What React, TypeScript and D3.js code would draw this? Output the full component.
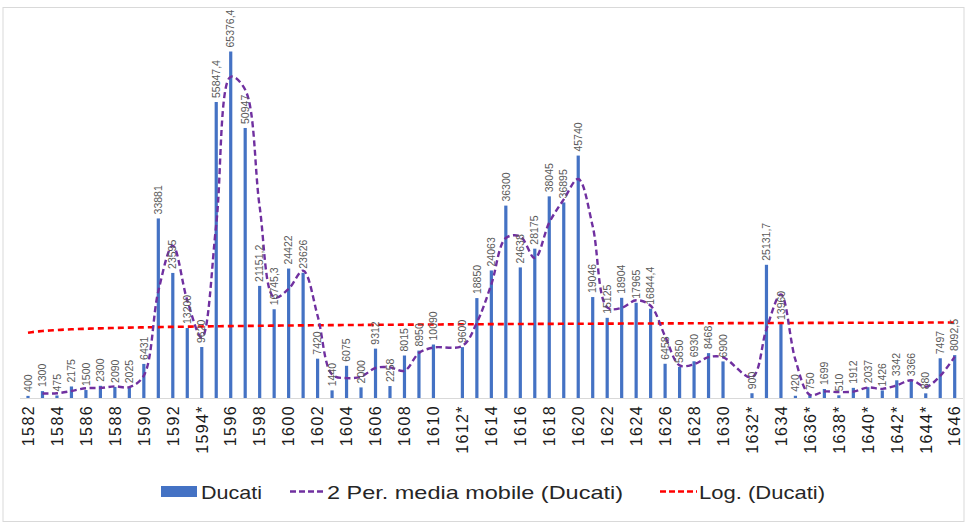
import React from "react";
import * as d3 from "d3";

const categories: string[] = [
  "1582","1583","1584","1585","1586","1587","1588","1589","1590","1591",
  "1592","1593","1594*","1595","1596","1597","1598","1599","1600","1601",
  "1602","1603","1604","1605","1606","1607","1608","1609","1610","1611",
  "1612*","1613","1614","1615","1616","1617","1618","1619","1620","1621",
  "1622","1623","1624","1625","1626","1627","1628","1629","1630","1631",
  "1632*","1633","1634","1635","1636*","1637","1638*","1639","1640*","1641",
  "1642*","1643","1644*","1645","1646"
];

const ducati: (number | null)[] = [
  400, 1300, 475, 2175, 1500, 2300, 2090, 2025, 6431, 33881,
  23595, 13200, 9620, 55847.4, 65376.4, 50947, 21151.2, 16745.3, 24422, 23626,
  7420, 1440, 6075, 2000, 9312, 2258, 8015, 8950, 10090, null,
  9600, 18850, 24063, 36300, 24638, 28175, 38045, 36895, 45740, 19046,
  15125, 18904, 17965, 16844.4, 6458, 5850, 6930, 8468, 6900, null,
  900, 25131.7, 13960, 420, 750, 1699, 510, 1912, 2037, 1426,
  3342, 3366, 880, 7497, 8092.5
];

const legendLabels: string[] = ["Ducati", "2 Per. media mobile (Ducati)", "Log. (Ducati)"];

const W = 968, H = 527;
const X0 = 28, X1 = 954.7, BASE = 398;

function fmt(v: number): string {
  return Number.isInteger(v) ? String(v) : String(v).replace(".", ",");
}

export default function App() {
  const x = d3.scalePoint<string>().domain(categories).range([X0, X1]);
  const xi = d3.scaleLinear().domain([1, categories.length]).range([X0, X1]);
  const y = d3.scaleLinear().domain([0, 70000]).range([BASE, 27]);

  // 2-period moving average over defined points
  const pts = ducati
    .map((v, i) => ({ i, v }))
    .filter((d) => d.v !== null) as { i: number; v: number }[];
  const ma: { i: number; v: number }[] = [];
  for (let k = 1; k < pts.length; k++) {
    ma.push({ i: pts[k].i, v: (pts[k].v + pts[k - 1].v) / 2 });
  }
  const maLine = d3
    .line<{ i: number; v: number }>()
    .x((d) => x(categories[d.i]) as number)
    .y((d) => y(d.v))
    .curve(d3.curveCatmullRom.alpha(0.5));

  // logarithmic trend y = a ln(x) + b
  const lx = pts.map((d) => Math.log(d.i + 1));
  const ly = pts.map((d) => d.v);
  const mx = d3.mean(lx) as number;
  const my = d3.mean(ly) as number;
  let num = 0, den = 0;
  lx.forEach((v, k) => {
    num += (v - mx) * (ly[k] - my);
    den += (v - mx) * (v - mx);
  });
  const a = num / den;
  const b = my - a * mx;
  const trendPts = d3.range(1, categories.length + 0.001, 0.25);
  const trendLine = d3
    .line<number>()
    .x((t) => xi(t))
    .y((t) => y(a * Math.log(t) + b));

  const barColor = "#4472C4";
  const maColor = "#7030A0";
  const logColor = "#FF0000";

  return (
    <svg
      width={W}
      height={H}
      style={{ position: "absolute", left: 0, top: 0, background: "#fff" }}
      fontFamily="'Liberation Sans', Arial, sans-serif"
    >
      <rect x={3} y={7.5} width={961} height={514} fill="#fff" stroke="#D9D9D9" />
      {/* axis line */}
      <line x1={20} x2={963} y1={BASE + 0.5} y2={BASE + 0.5} stroke="#D9D9D9" strokeWidth={1} />
      {/* bars */}
      {ducati.map((v, i) =>
        v === null ? null : (
          <rect
            key={"b" + i}
            x={(x(categories[i]) as number) - 1.6}
            width={3.2}
            y={y(v)}
            height={BASE - y(v)}
            fill={barColor}
          />
        )
      )}
      {/* trend */}
      <path
        d={trendLine(trendPts) || ""}
        fill="none"
        stroke={logColor}
        strokeWidth={2.6}
        strokeDasharray="6,4"
      />
      {/* moving average */}
      <path
        d={maLine(ma) || ""}
        fill="none"
        stroke={maColor}
        strokeWidth={2.4}
        strokeDasharray="6,3.5"
      />
      {/* data labels */}
      {ducati.map((v, i) => {
        if (v === null) return null;
        const cx = x(categories[i]) as number;
        const ty = y(v) - 4;
        return (
          <text
            key={"l" + i}
            transform={`translate(${cx},${ty}) rotate(-90)`}
            dy="0.35em"
            fontSize={10.5}
            fill="#595959"
            textAnchor="start"
          >
            {fmt(v)}
          </text>
        );
      })}
      {/* x tick labels */}
      {categories.map((c, i) =>
        i % 2 === 0 ? (
          <text
            key={"t" + i}
            transform={`translate(${x(c)},${BASE + 7}) rotate(-90)`}
            dy="0.36em"
            fontSize={16}
            letterSpacing={1.4}
            fill="#1a1a1a"
            textAnchor="end"
          >
            {c}
          </text>
        ) : null
      )}
      {/* legend */}
      <g fontSize={18.5} fill="#262626">
        <rect x={161} y={486} width={36} height={11} fill={barColor} />
        <text x={201} y={498.5} textLength={61} lengthAdjust="spacingAndGlyphs">{legendLabels[0]}</text>
        <line x1={290} x2={325} y1={491.5} y2={491.5} stroke={maColor} strokeWidth={2.4} strokeDasharray="6,3" />
        <text x={327} y={498.5} textLength={296} lengthAdjust="spacingAndGlyphs">{legendLabels[1]}</text>
        <line x1={660} x2={697} y1={491.5} y2={491.5} stroke={logColor} strokeWidth={2.4} strokeDasharray="6,3" />
        <text x={699} y={498.5} textLength={126} lengthAdjust="spacingAndGlyphs">{legendLabels[2]}</text>
      </g>
    </svg>
  );
}
